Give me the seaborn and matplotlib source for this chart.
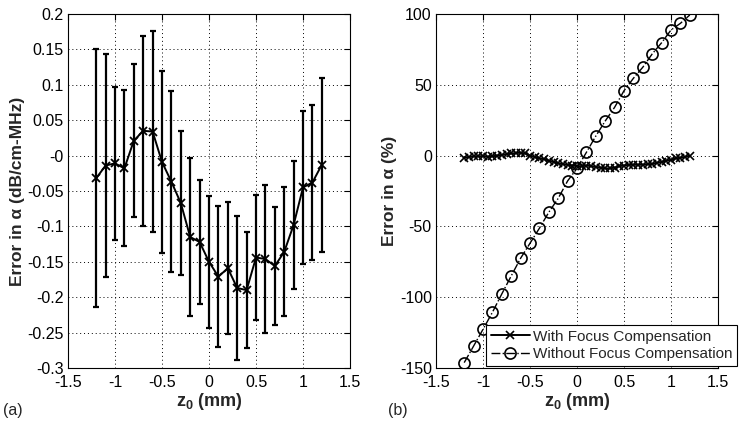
import numpy as np
import pandas as pd
import seaborn as sns
import matplotlib.pyplot as plt
from matplotlib.ticker import FuncFormatter

# panel (a): error in alpha with std error bars
z_a = [-1.2, -1.1, -1.0, -0.9, -0.8, -0.7, -0.6, -0.5, -0.4, -0.3, -0.2, -0.1, 0.0,
       0.1, 0.2, 0.3, 0.4, 0.5, 0.6, 0.7, 0.8, 0.9, 1.0, 1.1, 1.2]
err_a = [-0.032, -0.014, -0.011, -0.018, 0.021, 0.035, 0.034, -0.009, -0.037, -0.067,
         -0.115, -0.122, -0.150, -0.171, -0.159, -0.187, -0.190, -0.144, -0.146, -0.156,
         -0.136, -0.098, -0.045, -0.038, -0.013]
std_a = [0.182, 0.158, 0.108, 0.110, 0.108, 0.134, 0.142, 0.129, 0.128, 0.102,
         0.111, 0.087, 0.093, 0.100, 0.093, 0.102, 0.082, 0.088, 0.105, 0.083,
         0.091, 0.090, 0.108, 0.110, 0.123]

# panel (b): percent error with / without focus compensation
z_with = [-1.2, -1.15, -1.1, -1.05, -1.0, -0.95, -0.9, -0.85, -0.8, -0.75, -0.7, -0.65,
          -0.6, -0.55, -0.5, -0.45, -0.4, -0.35, -0.3, -0.25, -0.2, -0.15, -0.1, -0.05,
          0.0, 0.05, 0.1, 0.15, 0.2, 0.25, 0.3, 0.35, 0.4, 0.45, 0.5, 0.55, 0.6, 0.65,
          0.7, 0.75, 0.8, 0.85, 0.9, 0.95, 1.0, 1.05, 1.1, 1.15, 1.2]
pct_with = [-1.5, -1.0, -0.5, -0.5, -0.3, -0.8, -0.5, 0.0, 0.5, 1.0, 1.5, 1.8,
            2.0, 1.5, 0.0, -1.0, -2.0, -2.5, -3.5, -4.5, -5.5, -6.0, -6.5, -7.0,
            -7.5, -7.5, -7.0, -7.5, -8.0, -8.5, -9.0, -9.0, -8.5, -7.5, -7.0, -6.5, -6.5, -6.5,
            -6.5, -6.0, -6.0, -5.0, -4.5, -3.5, -3.0, -2.0, -1.5, -1.0, 0.0]
z_without = z_a
pct_without = [-146.2, -134.5, -122.7, -110.7, -97.7, -85.0, -72.5, -61.9, -51.3, -40.0,
               -30.2, -17.9, -9.0, 2.3, 13.8, 24.4, 34.1, 45.8, 54.6, 62.4,
               71.8, 79.7, 88.7, 93.4, 99.3]

sns.set_style("white")
plt.rcParams['font.family'] = ['Liberation Sans', 'DejaVu Sans']
plt.rcParams['axes.unicode_minus'] = False
plt.rcParams['mathtext.fontset'] = 'custom'
plt.rcParams['mathtext.rm'] = 'Liberation Sans'
plt.rcParams['mathtext.bf'] = 'Liberation Sans:bold'

fig = plt.figure(figsize=(7.52, 4.25), dpi=100)
ax1 = fig.add_axes([68 / 752, 1 - 368 / 425, 282 / 752, 354 / 425])
ax2 = fig.add_axes([436 / 752, 1 - 368 / 425, 282 / 752, 354 / 425])

fmt = FuncFormatter(lambda v, p: '%g' % round(v, 4))


def style_axis(ax):
    ax.grid(True, color='black', linestyle=(0, (1, 3)), linewidth=0.7)
    ax.tick_params(direction='in', length=4, labelsize=11.5, colors='black',
                   top=True, right=True)
    ax.tick_params(axis='x', pad=5)
    ax.tick_params(axis='y', pad=3)
    for s in ax.spines.values():
        s.set_color('black')
        s.set_linewidth(0.8)
    ax.xaxis.set_major_formatter(fmt)
    ax.yaxis.set_major_formatter(fmt)


# (a)
df_a = pd.DataFrame({'z': z_a, 'err': err_a, 'std': std_a})
ax1.errorbar(df_a['z'], df_a['err'], yerr=df_a['std'], fmt='none', ecolor='black',
             elinewidth=1.6, capsize=2.2, capthick=1.6)
sns.lineplot(data=df_a, x='z', y='err', ax=ax1, color='black', marker='x',
             markersize=6, markeredgewidth=1.3, markeredgecolor='black', linewidth=1.4)
ax1.set_xlim(-1.5, 1.5)
ax1.set_ylim(-0.3, 0.2)
ax1.set_xticks(np.arange(-1.5, 1.51, 0.5))
ax1.set_yticks(np.arange(-0.3, 0.201, 0.05))
style_axis(ax1)
ax1.set_xlabel(r'z$_\mathbf{0}$ (mm)', fontsize=13, fontweight='bold', labelpad=1)
ax1.set_ylabel('Error in α (dB/cm-MHz)', fontsize=12.5, fontweight='bold', labelpad=2)

# (b)
df_with = pd.DataFrame({'z': z_with, 'pct': pct_with})
df_without = pd.DataFrame({'z': z_without, 'pct': pct_without})
sns.lineplot(data=df_with, x='z', y='pct', ax=ax2, color='black', marker='x',
             markersize=5.5, markeredgewidth=1.2, markeredgecolor='black', linewidth=1.4,
             label='With Focus Compensation')
sns.lineplot(data=df_without, x='z', y='pct', ax=ax2, color='black', marker='o',
             markersize=8, markerfacecolor='none', markeredgecolor='black',
             markeredgewidth=1.2, linewidth=1.0, linestyle='-.',
             label='Without Focus Compensation')
ax2.set_xlim(-1.5, 1.5)
ax2.set_ylim(-150, 100)
ax2.set_xticks(np.arange(-1.5, 1.51, 0.5))
ax2.set_yticks(np.arange(-150, 101, 50))
style_axis(ax2)
ax2.set_xlabel(r'z$_\mathbf{0}$ (mm)', fontsize=13, fontweight='bold', labelpad=1)
ax2.set_ylabel('Error in α (%)', fontsize=12.5, fontweight='bold', labelpad=2)

leg = ax2.legend(loc='lower left', bbox_to_anchor=(486 / 752, 1 - 366 / 425),
                 bbox_transform=fig.transFigure, fontsize=11, frameon=True,
                 fancybox=False, edgecolor='black', framealpha=1,
                 borderpad=0.3, labelspacing=0.25, handlelength=2.6,
                 handletextpad=0.2, borderaxespad=0)
leg.get_frame().set_linewidth(0.8)

fig.text(3 / 752, 1 - 410 / 425, '(a)', fontsize=11.5, va='center')
fig.text(388 / 752, 1 - 410 / 425, '(b)', fontsize=11.5, va='center')

fig.savefig('out.png', dpi=100)
